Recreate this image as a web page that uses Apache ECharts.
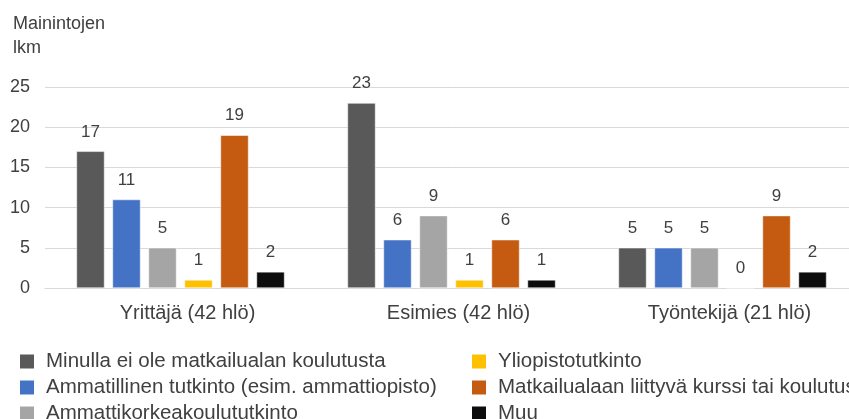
<!DOCTYPE html>
<html>
<head>
<meta charset="utf-8">
<script src="https://cdn.jsdelivr.net/npm/echarts@6/dist/echarts.min.js"></script>
<style>
  html, body { margin: 0; padding: 0; background: #fff; overflow: hidden; }
  /* plot and legend run a little past the window edges, like the original */
  #chart { width: 880px; height: 440px; }
</style>
</head>
<body>
<div id="chart"></div>
<script>
const categories = ["Yrittäjä (42 hlö)", "Esimies (42 hlö)", "Työntekijä (21 hlö)"];
const seriesNames = [
  "Minulla ei ole matkailualan koulutusta",
  "Ammatillinen tutkinto (esim. ammattiopisto)",
  "Ammattikorkeakoulututkinto",
  "Yliopistotutkinto",
  "Matkailualaan liittyvä kurssi tai koulutus",
  "Muu",
];
const noEducation = [17, 23, 5];
const vocational = [11, 6, 5];
const polytechnic = [5, 9, 5];
const university = [1, 1, 0];
const tourismCourse = [19, 6, 9];
const other = [2, 1, 2];
const yTicks = { min: 0, max: 25, interval: 5 };

const palette = ["#595959", "#4472c4", "#a5a5a5", "#ffc000", "#c55a11", "#0d0d0d"];
const font = "Liberation Sans, Arial, sans-serif";
const textColor = "#404040";
const values = [noEducation, vocational, polytechnic, university, tourismCourse, other];

const chart = echarts.init(document.querySelector("#chart"));

const series = values.map((data, index) => ({
  name: seriesNames[index],
  type: "bar",
  barWidth: 28,
  barGap: "28.6%",
  itemStyle: { color: palette[index], borderColor: "#ffffff", borderWidth: 0.5 },
  label: {
    show: true,
    position: "top",
    distance: 11,
    color: textColor,
    fontFamily: font,
    fontSize: 17,
  },
  data,
}));

function legendBlock(names, left) {
  return {
    data: names,
    orient: "vertical",
    left,
    top: 351,
    padding: 0,
    itemWidth: 16,
    itemHeight: 16,
    itemGap: 5,
    icon: "rect",
    textStyle: { color: textColor, fontFamily: font, fontSize: 20.5, lineHeight: 20, padding: [0, 0, 0, 6] },
  };
}

chart.setOption({
  animation: false,
  color: palette,
  title: {
    text: "Mainintojen\nlkm",
    left: 8,
    top: 7,
    textStyle: { color: textColor, fontFamily: font, fontSize: 18, fontWeight: "normal", lineHeight: 24 },
  },
  legend: [legendBlock(seriesNames.slice(0, 3), 18), legendBlock(seriesNames.slice(3), 470)],
  grid: { left: 45, top: 87, width: 813, height: 201, containLabel: false },
  xAxis: {
    type: "category",
    data: categories,
    axisLine: { lineStyle: { color: "#d9d9d9", width: 1 } },
    axisTick: { show: false },
    axisLabel: {
      color: textColor,
      fontFamily: font,
      fontSize: 20,
      margin: 15,
      padding: [0, 0, 0, 14],
    },
  },
  yAxis: {
    type: "value",
    min: yTicks.min,
    max: yTicks.max,
    interval: yTicks.interval,
    axisLine: { show: false },
    axisTick: { show: false },
    splitLine: { lineStyle: { color: "#d9d9d9", width: 1 } },
    axisLabel: { color: textColor, fontFamily: font, fontSize: 18, margin: 15 },
  },
  series,
});
</script>
</body>
</html>
